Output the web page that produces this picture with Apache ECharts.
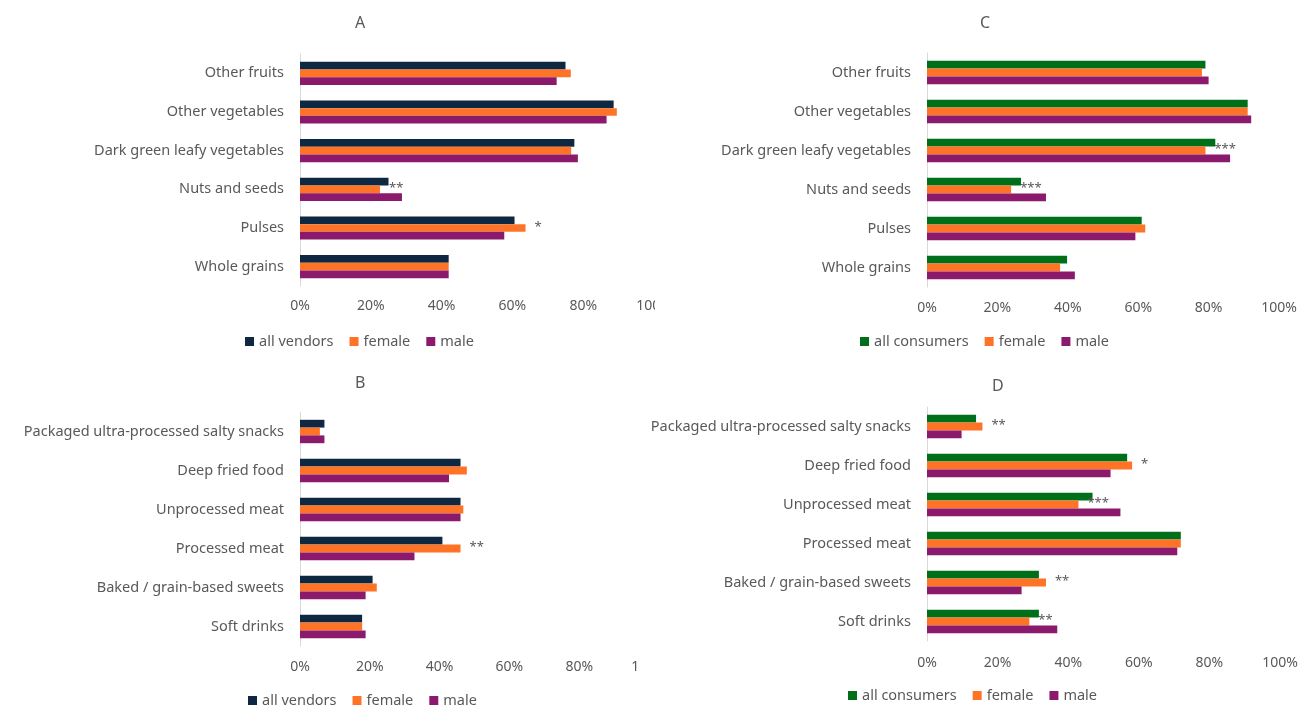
<!DOCTYPE html>
<html>
<head>
<meta charset="utf-8">
<script src="https://cdn.jsdelivr.net/npm/echarts@6/dist/echarts.min.js"></script>
<style>
  html, body { margin: 0; padding: 0; background: #fff; }
  body { width: 1302px; height: 706px; position: relative; overflow: hidden; }
  .panel { position: absolute; overflow: hidden; }
</style>
</head>
<body>
<div id="pA" class="panel" style="left:0;top:0;width:655px;height:360px;"></div>
<div id="pB" class="panel" style="left:0;top:360px;width:637px;height:346px;"></div>
<div id="pC" class="panel" style="left:620px;top:0;width:682px;height:360px;"></div>
<div id="pD" class="panel" style="left:620px;top:360px;width:682px;height:346px;"></div>
<script>
// ---------- data ----------
const healthyCats = ['Other fruits', 'Other vegetables', 'Dark green leafy vegetables', 'Nuts and seeds', 'Pulses', 'Whole grains'];
const unhealthyCats = ['Packaged ultra-processed salty snacks', 'Deep fried food', 'Unprocessed meat', 'Processed meat', 'Baked / grain-based sweets', 'Soft drinks'];
const tickLabels = ['0%', '20%', '40%', '60%', '80%', '100%'];

// Panel A: vendors, healthy foods (%)
const aAll    = [75, 88.6, 77.5, 25, 60.6, 42];
const aFemale = [76.5, 89.5, 76.6, 22.6, 63.7, 42];
const aMale   = [72.5, 86.6, 78.5, 28.8, 57.7, 42];
const aSig    = ['', '', '', '**', '*', ''];

// Panel B: vendors, unhealthy foods (%)
const bAll    = [7, 46, 46, 40.8, 20.8, 17.8];
const bFemale = [5.7, 47.8, 46.8, 46, 22, 17.8];
const bMale   = [7, 42.7, 46, 32.8, 18.8, 18.8];
const bSig    = ['', '', '', '**', '', ''];

// Panel C: consumers, healthy foods (%)
const cAll    = [79.1, 91.1, 81.9, 26.7, 61, 39.8];
const cFemale = [78.1, 91.1, 79.1, 23.9, 62, 37.8];
const cMale   = [80, 92.1, 86.1, 33.8, 59.2, 42];
const cSig    = ['', '', '***', '***', '', ''];

// Panel D: consumers, unhealthy foods (%)
const dAll    = [13.9, 56.7, 46.9, 71.9, 31.7, 31.7];
const dFemale = [15.7, 58.1, 42.9, 71.9, 33.7, 29];
const dMale   = [9.8, 52, 54.8, 70.9, 26.8, 36.9];
const dSig    = ['**', '*', '***', '', '**', '**'];

// ---------- styling ----------
const FONT = '"Noto Sans", "DejaVu Sans", sans-serif';
const TXT = '#595959';
const NAVY = '#0E2841', ORANGE = '#FF7327', PURPLE = '#8B1A6D', GREEN = '#006F1A';

function makePanel(el, cfg) {
  const chart = echarts.init(document.getElementById(el), null, { renderer: 'canvas' });
  const femaleData = cfg.female.map((v, i) => ({
    value: v,
    label: {
      show: !!cfg.sig[i],
      position: 'right',
      distance: 9,
      offset: [0, -1],
      formatter: cfg.sig[i],
      color: TXT,
      fontFamily: FONT,
      fontSize: 13
    }
  }));
  const barCommon = { type: 'bar', barGap: '0%', barCategoryGap: '40%' };
  chart.setOption({
    animation: false,
    title: {
      text: cfg.title, left: cfg.titleLeft, top: cfg.titleTop, padding: 0,
      textStyle: { fontFamily: FONT, fontSize: 16, fontWeight: 'normal', color: TXT }
    },
    grid: {
      left: cfg.grid[0], top: cfg.grid[1], width: cfg.grid[2], height: cfg.grid[3],
      containLabel: false, outerBoundsMode: 'none'
    },
    legend: {
      left: cfg.legend[0], top: cfg.legend[1], padding: 0,
      icon: 'rect', itemWidth: 9, itemHeight: 9, itemGap: 16,
      textStyle: { fontFamily: FONT, fontSize: 14.5, color: TXT },
      data: [cfg.allName, 'female', 'male']
    },
    xAxis: {
      type: 'value', min: 0, max: 100, interval: 20,
      axisLine: { show: false }, axisTick: { show: false }, splitLine: { show: false },
      axisLabel: {
        margin: cfg.xMargin, fontFamily: FONT, fontSize: 14, color: TXT,
        hideOverlap: false,
        formatter: v => tickLabels[Math.round(v / 20)]
      }
    },
    yAxis: {
      type: 'category', data: cfg.cats, inverse: true,
      axisLine: { show: true, lineStyle: { color: '#D9D9D9', width: 1 } },
      axisTick: { show: false },
      axisLabel: { margin: 16, fontFamily: FONT, fontSize: 14.5, color: TXT }
    },
    series: [
      Object.assign({ name: cfg.allName, data: cfg.all, itemStyle: { color: cfg.allColor } }, barCommon),
      Object.assign({ name: 'female', data: femaleData, itemStyle: { color: ORANGE } }, barCommon),
      Object.assign({ name: 'male', data: cfg.male, itemStyle: { color: PURPLE } }, barCommon)
    ]
  });
}

makePanel('pA', {
  title: 'A', titleLeft: 355, titleTop: 15,
  grid: [300, 54, 354, 232], xMargin: 13, legend: [245, 334],
  cats: healthyCats, all: aAll, female: aFemale, male: aMale, sig: aSig,
  allName: 'all vendors', allColor: NAVY
});
makePanel('pB', {
  title: 'B', titleLeft: 355, titleTop: 15,
  grid: [300, 52, 349, 234], xMargin: 14, legend: [248, 333],
  cats: unhealthyCats, all: bAll, female: bFemale, male: bMale, sig: bSig,
  allName: 'all vendors', allColor: NAVY
});
makePanel('pC', {
  title: 'C', titleLeft: 360, titleTop: 15,
  grid: [307, 53, 352, 234], xMargin: 14, legend: [240, 334],
  cats: healthyCats, all: cAll, female: cFemale, male: cMale, sig: cSig,
  allName: 'all consumers', allColor: GREEN
});
makePanel('pD', {
  title: 'D', titleLeft: 372, titleTop: 18,
  grid: [307, 47, 353, 234], xMargin: 15, legend: [228, 328],
  cats: unhealthyCats, all: dAll, female: dFemale, male: dMale, sig: dSig,
  allName: 'all consumers', allColor: GREEN
});
</script>
</body>
</html>
